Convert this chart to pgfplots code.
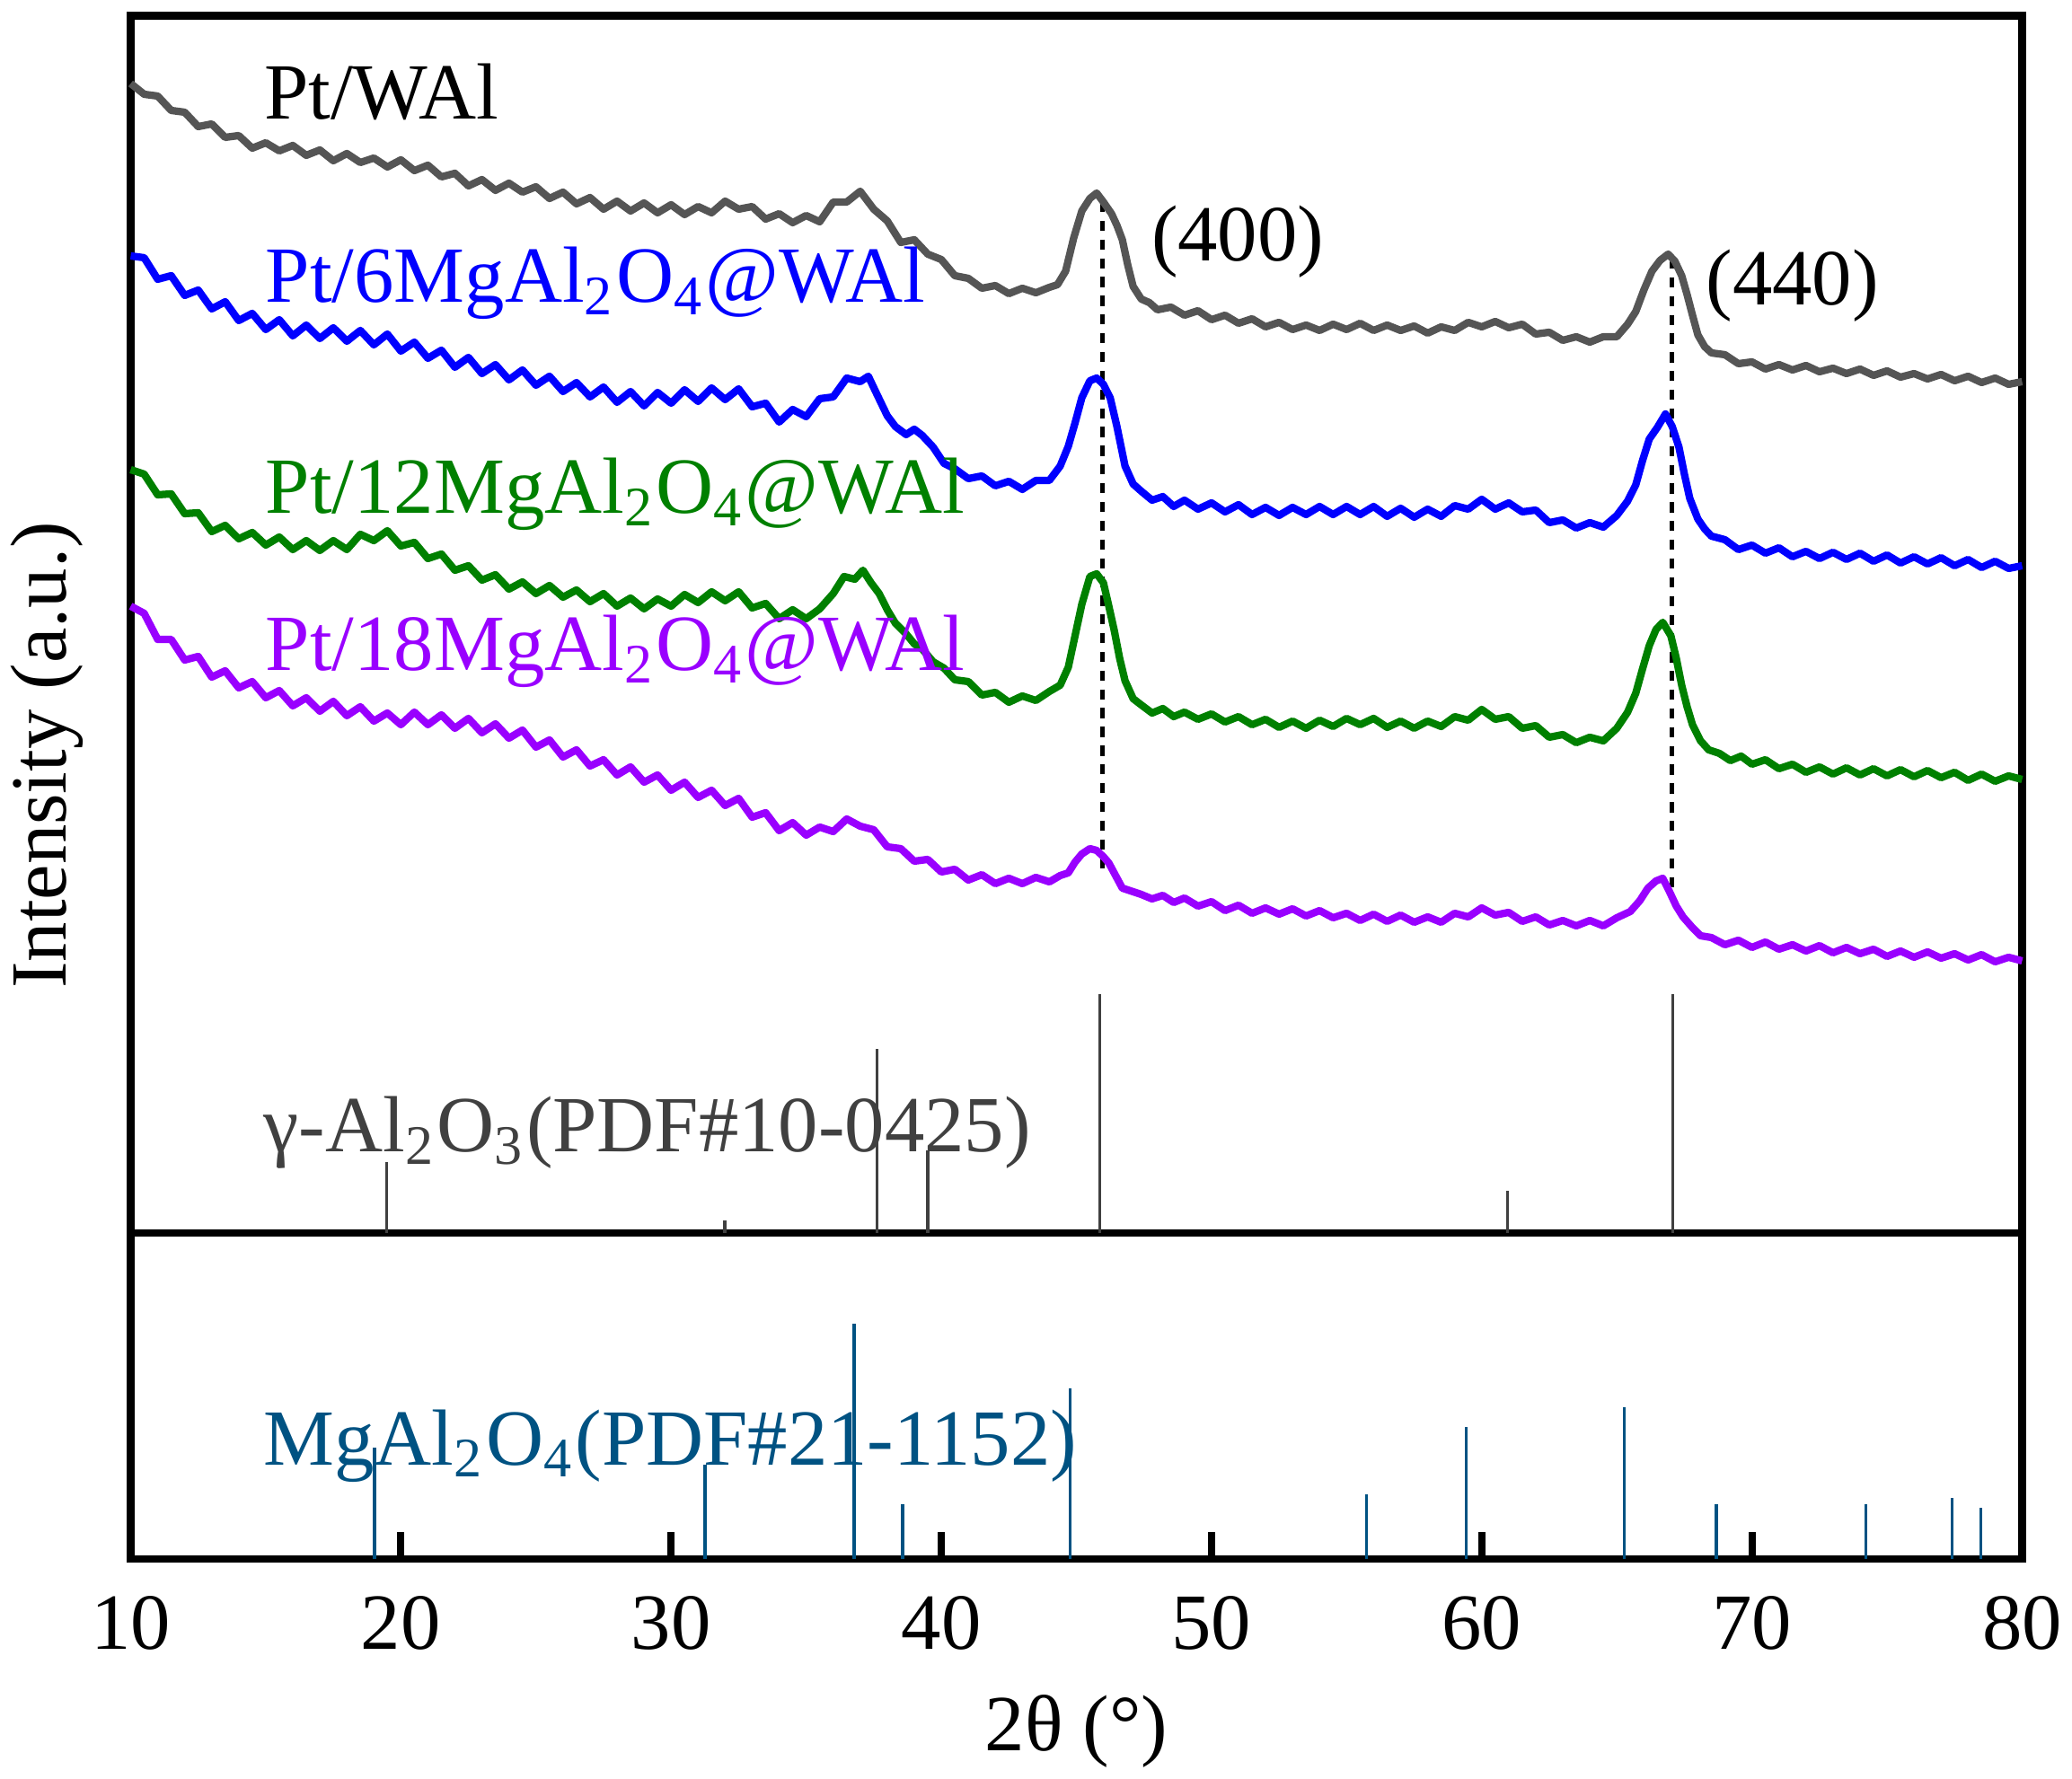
\documentclass[border=0pt]{standalone}
\usepackage{pgfplots}
\pgfplotsset{compat=1.18}
\usepackage{fontspec}
\setmainfont{Liberation Serif}
\definecolor{cgray}{RGB}{85,85,85}
\definecolor{cblue}{RGB}{0,0,255}
\definecolor{cgreen}{RGB}{0,128,0}
\definecolor{cpurple}{RGB}{153,0,255}
\definecolor{cteal}{RGB}{0,82,130}
\definecolor{cdark}{RGB}{64,64,64}
\begin{document}
\begin{tikzpicture}
\pgfplotsset{
  myaxis/.style={
    width=242.19pt, scale only axis,
    xmin=10, xmax=80,
    axis line style={line width=1pt},
    clip=false,
    /pgf/number format/assume math mode=true,
  }
}
% ---------------- bottom panel: MgAl2O4 ----------------
\begin{axis}[myaxis,
  at={(0,0)}, anchor=south west,
  height=41.75pt,
  ymin=0, ymax=363,
  ytick=\empty,
  xtick={10,20,30,40,50,60,70,80},
  xtick pos=bottom,
  tick align=inside,
  major tick length=3.45pt,
  every tick/.style={black, line width=0.9pt},
  xticklabel style={anchor=base, inner sep=0pt, yshift=-11.5pt, font=\fontsize{10.2}{12}\selectfont},
  xlabel={2θ (°)},
  xlabel style={at={(axis description cs:0.5,0)}, anchor=base, inner sep=0pt, yshift=-24.6pt, font=\fontsize{10.2}{12}\selectfont},
]
\addplot[ycomb, cteal, line width=0.4pt] coordinates {
(19.03,124) (31.26,105) (36.78,262) (38.57,61) (44.76,190) (55.73,72)
(59.42,147) (65.27,169) (68.69,61) (74.21,61) (77.40,68) (78.47,57)
};
\node[anchor=base west, inner sep=0pt, text=cteal, font=\fontsize{10.2}{12}\selectfont] at (axis cs:14.87,105) {MgAl\textsubscript{2}O\textsubscript{4}(PDF\#21-1152)};
\end{axis}
% ---------------- top panel: XRD patterns ----------------
\begin{axis}[myaxis,
  at={(0,41.75pt)}, anchor=south west,
  height=155.88pt,
  ymin=0, ymax=1355.5,
  xtick=\empty, ytick=\empty,
]
% gamma-Al2O3 reference sticks
\addplot[ycomb, cdark, line width=0.4pt] coordinates {
(19.47,79) (31.99,14) (37.63,205) (39.5,92) (45.87,266) (60.95,47) (67.07,266)
};
% dashed guide lines
\addplot[black, line width=0.6pt, dash pattern=on 1.3pt off 1.1pt] coordinates {(45.97,1148) (45.97,405)};
\addplot[black, line width=0.6pt, dash pattern=on 1.3pt off 1.1pt] coordinates {(67.05,1085) (67.05,384)};
% Pt/WAl
\addplot[cgray, line width=0.95pt, line join=round] coordinates {
(10.0,1280) (10.5,1268) (11.0,1266) (11.5,1250) (12.0,1248) (12.5,1232) (13.0,1235) (13.5,1220)
(14.0,1222) (14.5,1208) (15.0,1214) (15.5,1205) (16.0,1211) (16.5,1200) (17.0,1206) (17.5,1194)
(18.0,1202) (18.5,1192) (19.0,1197) (19.5,1187) (20.0,1195) (20.5,1183) (21.0,1189) (21.5,1176)
(22.0,1180) (22.5,1166) (23.0,1173) (23.5,1161) (24.0,1169) (24.5,1159) (25.0,1165) (25.5,1152)
(26.0,1159) (26.5,1146) (27.0,1153) (27.5,1140) (28.0,1149) (28.5,1138) (29.0,1147) (29.5,1136)
(30.0,1145) (30.5,1134) (31.0,1143) (31.5,1136) (32.0,1149) (32.5,1140) (33.0,1143) (33.5,1129)
(34.0,1135) (34.5,1125) (35.0,1133) (35.5,1126) (36.0,1148) (36.5,1148) (37.0,1160) (37.5,1140)
(38.0,1127) (38.5,1103) (39.0,1106) (39.5,1090) (40.0,1084) (40.5,1066) (41.0,1063) (41.5,1052)
(42.0,1055) (42.5,1046) (43.0,1052) (43.5,1047) (44.0,1053) (44.3,1056) (44.6,1071) (44.9,1108)
(45.2,1138) (45.5,1152) (45.75,1158) (46.0,1148) (46.3,1135) (46.5,1122) (46.7,1106) (46.9,1078)
(47.1,1054) (47.4,1040) (47.7,1036) (48.0,1028) (48.5,1031) (49.0,1022) (49.5,1027) (50.0,1017)
(50.5,1022) (51.0,1013) (51.5,1018) (52.0,1009) (52.5,1014) (53.0,1006) (53.5,1011) (54.0,1005)
(54.5,1012) (55.0,1006) (55.5,1013) (56.0,1005) (56.5,1011) (57.0,1005) (57.5,1010) (58.0,1002)
(58.5,1009) (59.0,1005) (59.5,1014) (60.0,1009) (60.5,1015) (61.0,1008) (61.5,1012) (62.0,1001)
(62.5,1003) (63.0,994) (63.5,998) (64.0,992) (64.5,998) (65.0,998) (65.4,1012) (65.7,1026)
(66.0,1050) (66.3,1071) (66.6,1083) (66.9,1090) (67.15,1082) (67.4,1066) (67.6,1045) (67.8,1022)
(68.0,1000) (68.25,987) (68.5,980) (69.0,978) (69.5,968) (70.0,970) (70.5,962) (71.0,967)
(71.5,961) (72.0,966) (72.5,959) (73.0,963) (73.5,957) (74.0,962) (74.5,955) (75.0,960)
(75.5,953) (76.0,957) (76.5,951) (77.0,956) (77.5,949) (78.0,954) (78.5,947) (79.0,952)
(79.5,945) (80.0,948)
};
% Pt/6MgAl2O4@WAl
\addplot[cblue, line width=0.95pt, line join=round] coordinates {
(10.0,1088) (10.5,1086) (11.0,1062) (11.5,1066) (12.0,1044) (12.5,1050) (13.0,1029) (13.5,1037)
(14.0,1016) (14.5,1024) (15.0,1006) (15.5,1017) (16.0,999) (16.5,1011) (17.0,996) (17.5,1008)
(18.0,993) (18.5,1005) (19.0,989) (19.5,1001) (20.0,982) (20.5,992) (21.0,974) (21.5,983)
(22.0,964) (22.5,975) (23.0,957) (23.5,967) (24.0,950) (24.5,961) (25.0,944) (25.5,954)
(26.0,937) (26.5,947) (27.0,931) (27.5,942) (28.0,925) (28.5,937) (29.0,921) (29.5,936)
(30.0,924) (30.5,939) (31.0,926) (31.5,941) (32.0,928) (32.5,940) (33.0,920) (33.5,924)
(34.0,903) (34.5,917) (35.0,909) (35.5,929) (36.0,931) (36.5,952) (37.0,948) (37.3,954)
(37.6,935) (38.0,910) (38.3,898) (38.7,889) (39.0,895) (39.3,888) (39.7,875) (40.1,857)
(40.5,851) (41.0,840) (41.5,843) (42.0,832) (42.5,837) (43.0,828) (43.5,838) (44.0,838)
(44.4,854) (44.7,876) (44.95,902) (45.2,930) (45.5,949) (45.75,952) (46.0,945) (46.25,930)
(46.5,898) (46.8,854) (47.1,834) (47.4,826) (47.8,816) (48.2,820) (48.6,809) (49.0,816)
(49.5,806) (50.0,813) (50.5,803) (51.0,811) (51.5,800) (52.0,808) (52.5,799) (53.0,808)
(53.5,800) (54.0,809) (54.5,800) (55.0,809) (55.5,800) (56.0,809) (56.5,798) (57.0,807)
(57.5,797) (58.0,806) (58.5,798) (59.0,810) (59.5,806) (60.0,817) (60.5,806) (61.0,813)
(61.5,803) (62.0,805) (62.5,791) (63.0,794) (63.5,785) (64.0,791) (64.5,786) (65.0,799)
(65.4,815) (65.7,833) (65.95,860) (66.2,884) (66.5,897) (66.8,912) (67.05,898) (67.3,875)
(67.5,845) (67.7,818) (68.0,795) (68.25,784) (68.5,776) (69.0,772) (69.5,761) (70.0,766)
(70.5,757) (71.0,763) (71.5,753) (72.0,759) (72.5,751) (73.0,758) (73.5,750) (74.0,757)
(74.5,748) (75.0,755) (75.5,746) (76.0,753) (76.5,745) (77.0,752) (77.5,743) (78.0,750)
(78.5,741) (79.0,748) (79.5,740) (80.0,743)
};
% Pt/12MgAl2O4@WAl
\addplot[cgreen, line width=0.95pt, line join=round] coordinates {
(10.0,850) (10.5,845) (11.0,822) (11.5,823) (12.0,801) (12.5,802) (13.0,781) (13.5,788)
(14.0,773) (14.5,780) (15.0,766) (15.5,775) (16.0,761) (16.5,771) (17.0,760) (17.5,771)
(18.0,761) (18.5,778) (19.0,771) (19.5,782) (20.0,765) (20.5,769) (21.0,751) (21.5,756)
(22.0,738) (22.5,743) (23.0,727) (23.5,733) (24.0,717) (24.5,725) (25.0,712) (25.5,721)
(26.0,708) (26.5,716) (27.0,703) (27.5,712) (28.0,698) (28.5,707) (29.0,695) (29.5,706)
(30.0,698) (30.5,711) (31.0,702) (31.5,714) (32.0,704) (32.5,714) (33.0,696) (33.5,701)
(34.0,684) (34.5,694) (35.0,684) (35.5,695) (36.0,712) (36.4,731) (36.8,728) (37.1,738)
(37.4,724) (37.7,712) (38.0,694) (38.3,679) (38.7,667) (39.0,656) (39.3,650) (39.7,636)
(40.1,629) (40.5,616) (41.0,614) (41.5,599) (42.0,602) (42.5,591) (43.0,598) (43.5,593)
(44.0,603) (44.4,610) (44.7,630) (44.95,665) (45.2,700) (45.5,731) (45.75,734) (46.0,724)
(46.2,698) (46.4,671) (46.6,640) (46.8,615) (47.1,595) (47.4,588) (47.8,579) (48.2,584)
(48.6,575) (49.0,580) (49.5,572) (50.0,578) (50.5,569) (51.0,575) (51.5,566) (52.0,572)
(52.5,563) (53.0,570) (53.5,562) (54.0,571) (54.5,564) (55.0,573) (55.5,566) (56.0,573)
(56.5,563) (57.0,570) (57.5,562) (58.0,570) (58.5,564) (59.0,575) (59.5,571) (60.0,583)
(60.5,572) (61.0,575) (61.5,562) (62.0,565) (62.5,552) (63.0,555) (63.5,546) (64.0,552)
(64.5,548) (65.0,562) (65.4,580) (65.7,601) (65.95,628) (66.2,654) (66.45,672) (66.7,680)
(67.0,665) (67.2,640) (67.4,610) (67.6,586) (67.8,566) (68.1,548) (68.4,538) (68.8,534)
(69.2,526) (69.6,531) (70.0,522) (70.5,527) (71.0,517) (71.5,522) (72.0,513) (72.5,519)
(73.0,511) (73.5,518) (74.0,510) (74.5,517) (75.0,509) (75.5,516) (76.0,508) (76.5,515)
(77.0,507) (77.5,513) (78.0,504) (78.5,511) (79.0,503) (79.5,509) (80.0,505)
};
% Pt/18MgAl2O4@WAl
\addplot[cpurple, line width=0.95pt, line join=round] coordinates {
(10.0,698) (10.5,690) (11.0,661) (11.5,661) (12.0,638) (12.5,642) (13.0,619) (13.5,626)
(14.0,607) (14.5,614) (15.0,596) (15.5,604) (16.0,587) (16.5,596) (17.0,581) (17.5,592)
(18.0,576) (18.5,586) (19.0,570) (19.5,579) (20.0,566) (20.5,580) (21.0,566) (21.5,577)
(22.0,562) (22.5,573) (23.0,557) (23.5,567) (24.0,551) (24.5,560) (25.0,541) (25.5,549)
(26.0,530) (26.5,538) (27.0,520) (27.5,527) (28.0,510) (28.5,519) (29.0,502) (29.5,510)
(30.0,493) (30.5,502) (31.0,485) (31.5,493) (32.0,476) (32.5,484) (33.0,463) (33.5,468)
(34.0,448) (34.5,457) (35.0,443) (35.5,452) (36.0,447) (36.5,461) (37.0,453) (37.5,449)
(38.0,430) (38.5,428) (39.0,414) (39.5,416) (40.0,402) (40.5,405) (41.0,393) (41.5,399)
(42.0,389) (42.5,395) (43.0,389) (43.5,396) (44.0,391) (44.4,398) (44.7,401) (44.95,413)
(45.2,422) (45.5,428) (45.75,426) (46.0,419) (46.2,412) (46.45,398) (46.7,384) (47.0,381)
(47.4,377) (47.8,372) (48.2,376) (48.6,368) (49.0,373) (49.5,364) (50.0,369) (50.5,359)
(51.0,365) (51.5,356) (52.0,362) (52.5,355) (53.0,361) (53.5,353) (54.0,359) (54.5,351)
(55.0,356) (55.5,348) (56.0,355) (56.5,347) (57.0,354) (57.5,346) (58.0,352) (58.5,346)
(59.0,356) (59.5,352) (60.0,362) (60.5,354) (61.0,357) (61.5,347) (62.0,352) (62.5,343)
(63.0,348) (63.5,342) (64.0,348) (64.5,342) (65.0,351) (65.5,358) (65.85,370) (66.15,384)
(66.45,392) (66.7,395) (66.95,380) (67.2,364) (67.45,352) (67.8,340) (68.1,331) (68.5,329)
(69.0,321) (69.5,326) (70.0,318) (70.5,324) (71.0,316) (71.5,321) (72.0,314) (72.5,320)
(73.0,312) (73.5,318) (74.0,311) (74.5,316) (75.0,308) (75.5,314) (76.0,307) (76.5,313)
(77.0,306) (77.5,311) (78.0,304) (78.5,310) (79.0,302) (79.5,307) (80.0,303)
};
% labels
\begin{scope}[every node/.style={anchor=base west, inner sep=0pt, font=\fontsize{10.2}{12}\selectfont}]
\node[text=black] at (axis cs:14.89,1240) {Pt/WAl};
\node[text=cblue] at (axis cs:14.94,1036) {Pt/6MgAl\textsubscript{2}O\textsubscript{4}@WAl};
\node[text=cgreen] at (axis cs:14.94,801) {Pt/12MgAl\textsubscript{2}O\textsubscript{4}@WAl};
\node[text=cpurple] at (axis cs:14.94,626) {Pt/18MgAl\textsubscript{2}O\textsubscript{4}@WAl};
\node[text=black] at (axis cs:47.72,1082) {(400)};
\node[text=black] at (axis cs:68.25,1033) {(440)};
\node[text=cdark] at (axis cs:14.87,90) {γ-Al\textsubscript{2}O\textsubscript{3}(PDF\#10-0425)};
\end{scope}
\end{axis}
\node[rotate=90, anchor=center, inner sep=0pt, font=\fontsize{10.2}{12}\selectfont] at (-10.75pt,102.93pt) {Intensity (a.u.)};
\pgfresetboundingbox
\path (-16.73pt,-28.06pt) rectangle (248.57pt,199.64pt);
\end{tikzpicture}
\end{document}
